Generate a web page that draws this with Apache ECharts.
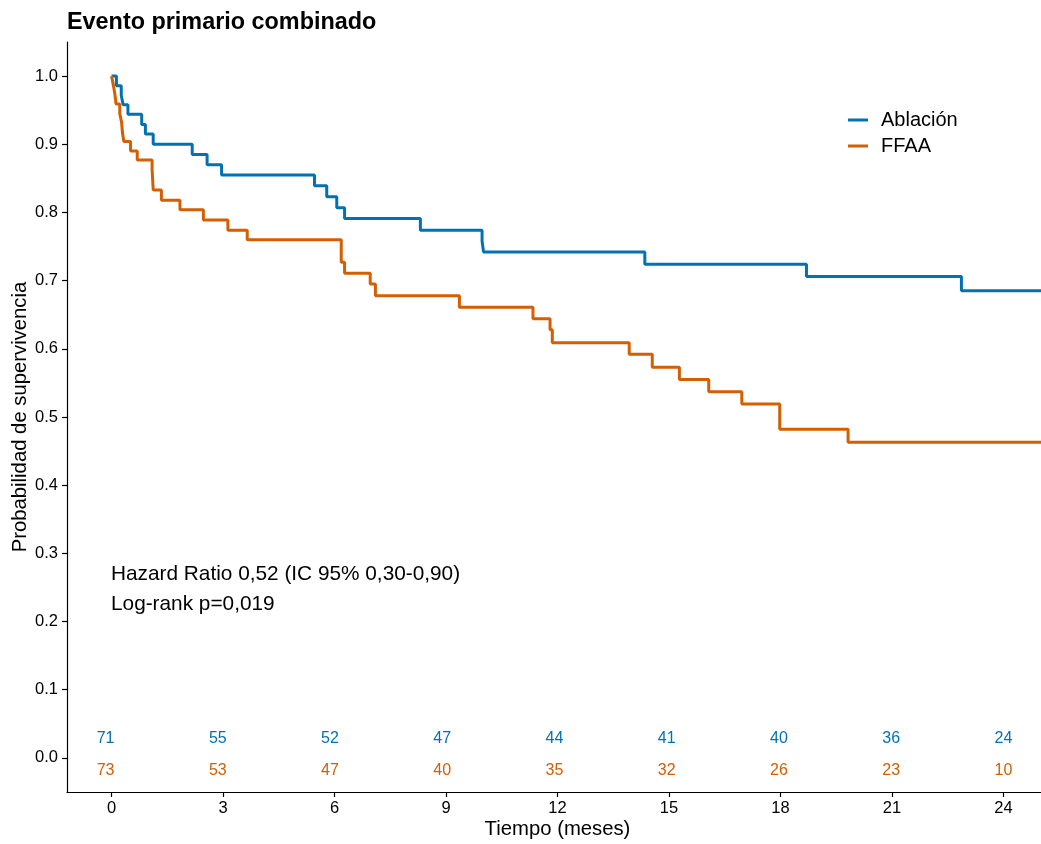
<!DOCTYPE html>
<html>
<head>
<meta charset="utf-8">
<style>html,body{margin:0;padding:0;background:#fff}#c{width:1041px;height:844px}</style>
<script src="https://cdn.jsdelivr.net/npm/echarts@6/dist/echarts.min.js"></script>
</head>
<body>
<div id="c"></div>
<script>
// ---- Data ----
const seriesNames = ['Ablación', 'FFAA'];
const ablacionTime = [0, 0.13, 0.26, 0.31, 0.44, 0.81, 0.91, 1.12, 2.17, 2.57, 2.96, 5.46, 5.79, 6.06, 6.27, 8.31, 9.97, 10.01, 14.35, 18.70, 22.87, 25.2];
const ablacionSurv = [1.0, 0.986, 0.972, 0.958, 0.944, 0.929, 0.915, 0.900, 0.885, 0.870, 0.855, 0.839, 0.823, 0.807, 0.791, 0.774, 0.758, 0.742, 0.724, 0.706, 0.685, 0.685];
const ffaaTime = [0, 0.05, 0.09, 0.12, 0.22, 0.27, 0.29, 0.33, 0.51, 0.69, 1.09, 1.12, 1.34, 1.84, 2.47, 3.13, 3.65, 6.18, 6.27, 6.96, 7.10, 9.36, 11.34, 11.80, 11.86, 13.93, 14.55, 15.28, 16.07, 16.96, 17.98, 19.82, 25.2];
const ffaaSurv = [1.0, 0.986, 0.973, 0.959, 0.945, 0.932, 0.918, 0.904, 0.890, 0.877, 0.863, 0.833, 0.818, 0.804, 0.789, 0.774, 0.760, 0.727, 0.711, 0.695, 0.678, 0.661, 0.644, 0.628, 0.609, 0.592, 0.573, 0.555, 0.537, 0.519, 0.482, 0.463, 0.463];
const riskTimes = [0, 3, 6, 9, 12, 15, 18, 21, 24];
const riskAblacion = [71, 55, 52, 47, 44, 41, 40, 36, 24];
const riskFFAA = [73, 53, 47, 40, 35, 32, 26, 23, 10];
const xTicks = [0, 3, 6, 9, 12, 15, 18, 21, 24];
const yTicks = [0, 0.1, 0.2, 0.3, 0.4, 0.5, 0.6, 0.7, 0.8, 0.9, 1.0];
const annotationLines = ['Hazard Ratio 0,52 (IC 95% 0,30-0,90)', 'Log-rank p=0,019'];

// ---- Chart ----
const colors = ['#0072B2', '#D55E00'];
const FONT = '"Liberation Sans", Arial, Helvetica, sans-serif';
const zip = (a, b) => a.map((v, i) => [v, b[i]]);
const riskRowY = [0.028, -0.019];

const chart = echarts.init(document.getElementById('c'), null, {renderer: 'canvas'});
const axisLineStyle = {color: '#000', width: 1.2};

function riskSeries(name, counts, rowY, color) {
  return {
    name: name, type: 'scatter', xAxisIndex: 1, symbolSize: 1,
    itemStyle: {color: 'rgba(0,0,0,0)'},
    data: riskTimes.map((t, i) => [t, rowY, counts[i]]),
    label: {show: true, position: 'inside', formatter: p => String(p.value[2]),
      fontFamily: FONT, fontSize: 16, color: color, opacity: 1,
      textBorderWidth: 0, textBorderColor: 'transparent'},
    emphasis: {disabled: true},
    silent: true
  };
}

const option = {
  animation: false,
  backgroundColor: '#fff',
  textStyle: {fontFamily: FONT},
  title: {
    text: 'Evento primario combinado',
    left: 62, top: 6,
    textStyle: {fontFamily: FONT, fontSize: 23.4, fontWeight: 'bold', color: '#000'}
  },
  legend: {
    orient: 'vertical',
    left: 843, top: 105,
    itemWidth: 20, itemHeight: 3, itemGap: 6,
    icon: 'rect',
    textStyle: {fontFamily: FONT, fontSize: 20, color: '#000', padding: [0, 0, 0, 8]},
    data: seriesNames
  },
  grid: {left: 67, right: -7, top: 42, bottom: 52, containLabel: false, outerBoundsMode: 'none'},
  xAxis: [{
    type: 'value', min: -1.2, max: 25.2,
    name: 'Tiempo (meses)', nameLocation: 'middle', nameGap: 27, nameMoveOverlap: false,
    nameTextStyle: {fontFamily: FONT, fontSize: 20.3, color: '#000'},
    axisLine: {show: true, onZero: false, lineStyle: axisLineStyle},
    axisTick: {show: true, length: 5, lineStyle: axisLineStyle, customValues: xTicks},
    axisLabel: {show: true, margin: 8, fontFamily: FONT, fontSize: 16.5, color: '#000', customValues: xTicks},
    splitLine: {show: false}
  }, {
    type: 'value', min: -1.03, max: 25.19, show: false,
    splitLine: {show: false}
  }],
  yAxis: [{
    type: 'value', min: -0.05, max: 1.05,
    name: 'Probabilidad de supervivencia', nameLocation: 'middle', nameGap: 37, nameRotate: 90,
    nameMoveOverlap: false,
    nameTextStyle: {fontFamily: FONT, fontSize: 20.3, color: '#000'},
    axisLine: {show: true, onZero: false, lineStyle: axisLineStyle},
    axisTick: {show: true, length: 5, lineStyle: axisLineStyle, customValues: yTicks},
    axisLabel: {show: true, margin: 9, fontFamily: FONT, fontSize: 16.5, color: '#000', customValues: yTicks,
      formatter: v => v.toFixed(1)},
    splitLine: {show: false}
  }],
  series: [
    {
      name: seriesNames[0], type: 'line', step: 'end', symbol: 'none',
      data: zip(ablacionTime, ablacionSurv),
      lineStyle: {color: colors[0], width: 3}, itemStyle: {color: colors[0]}, z: 3
    },
    {
      name: seriesNames[1], type: 'line', step: 'end', symbol: 'none',
      data: zip(ffaaTime, ffaaSurv),
      lineStyle: {color: colors[1], width: 3}, itemStyle: {color: colors[1]}, z: 3
    },
    riskSeries('riskA', riskAblacion, riskRowY[0], colors[0]),
    riskSeries('riskF', riskFFAA, riskRowY[1], colors[1])
  ],
  graphic: annotationLines.map((txt, i) => ({
    type: 'text', left: 111, top: 564 + i * 30,
    style: {text: txt, fontFamily: FONT, fontSize: 20.8, fill: '#000'}
  }))
};
chart.setOption(option);
</script>
</body>
</html>
